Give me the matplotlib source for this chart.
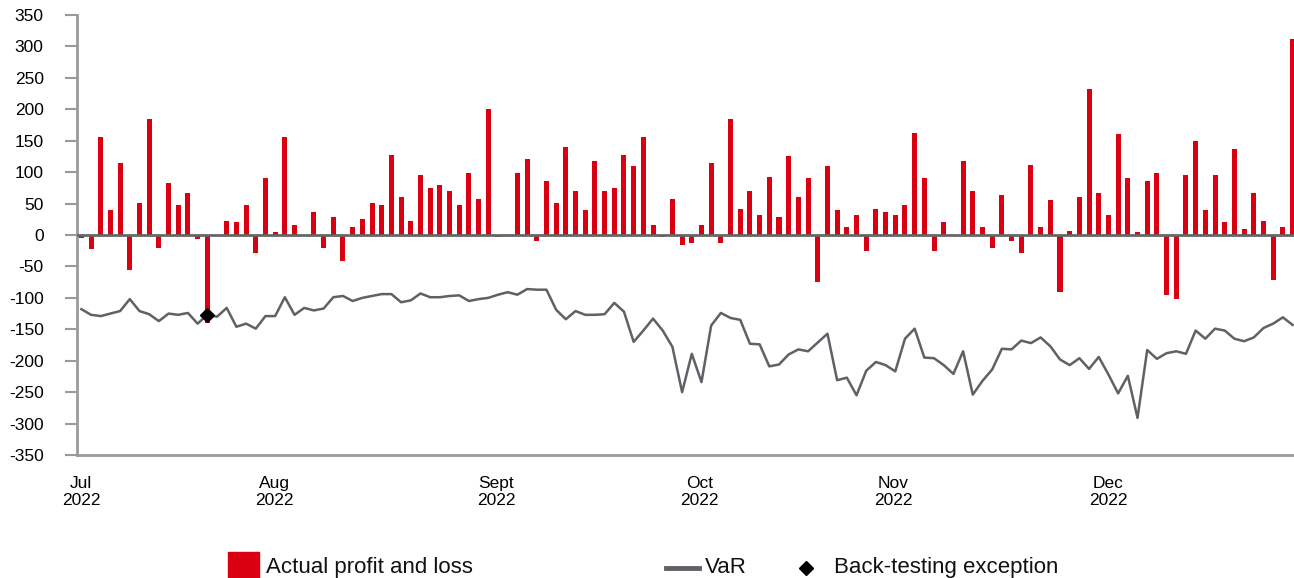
import matplotlib

matplotlib.use("Agg")

import matplotlib.pyplot as plt
import numpy as np
from matplotlib.lines import Line2D
from matplotlib.patches import Rectangle

plt.rcParams["font.family"] = ["Liberation Sans", "DejaVu Sans"]

# Colours
RED = "#db0011"
VAR_GREY = "#606066"
AXIS_GREY = "#9a9a9a"
ZERO_GREY = "#666666"

# Daily actual profit and loss (one entry per trading day, Jul-Dec 2022)
pnl = [
    -4, -23, 156, 39, 115, -55, 51, 185, -20, 83,
    48, 67, -7, -140, 0, 23, 20, 48, -29, 90,
    4, 156, 16, 0, 36, -20, 29, -42, 13, 26,
    51, 48, 128, 61, 23, 96, 74, 80, 70, 48,
    99, 58, 201, -3, 0, 99, 121, -10, 86, 51,
    140, 70, 39, 118, 70, 74, 128, 109, 156, 16,
    -3, 58, -16, -13, 16, 115, -13, 185, 42, 70,
    32, 93, 29, 125, 61, 90, -74, 109, 39, 13,
    32, -26, 42, 36, 32, 48, 163, 90, -26, 20,
    0, 118, 70, 13, -20, 64, -10, -29, 112, 13,
    55, -90, 7, 61, 233, 67, 32, 160, 90, 4,
    86, 99, -96, -102, 96, 150, 39, 96, 20, 137,
    10, 67, 23, -71, 13, 312,
]

# Daily VaR
var = [
    -118, -127, -129, -125, -121, -102, -121, -126, -137, -125,
    -127, -124, -141, -127, -130, -116, -146, -141, -149, -129,
    -129, -99, -127, -116, -120, -117, -99, -97, -105, -100,
    -97, -94, -94, -107, -104, -93, -99, -99, -97, -96,
    -105, -102, -100, -95, -91, -95, -86, -87, -87, -119,
    -134, -121, -127, -127, -126, -108, -122, -170, -152, -133,
    -152, -178, -250, -189, -234, -144, -124, -132, -135, -173,
    -174, -209, -206, -190, -182, -185, -171, -157, -231, -227,
    -255, -216, -202, -207, -217, -165, -149, -195, -196, -207,
    -221, -185, -254, -232, -214, -181, -182, -168, -172, -163,
    -177, -198, -207, -196, -213, -194, -222, -252, -224, -291,
    -183, -197, -188, -185, -189, -152, -165, -149, -152, -165,
    -169, -163, -148, -141, -131, -143,
]

# Back-testing exceptions (trading-day index)
exception_days = [13]

month_labels = ["Jul\n2022", "Aug\n2022", "Sept\n2022", "Oct\n2022", "Nov\n2022", "Dec\n2022"]
month_ticks = [0, 19.9, 42.8, 63.8, 83.8, 106.0]

y_ticks = list(range(-350, 351, 50))

days = np.arange(len(pnl))

fig = plt.figure(figsize=(12.94, 5.78), dpi=100)
ax = fig.add_axes([77 / 1294, 1 - 455 / 578, 1 - 77 / 1294, 440 / 578])

ax.bar(days, pnl, width=0.52, color=RED, zorder=2)
ax.axhline(0, color=ZERO_GREY, linewidth=2.0, zorder=3)
ax.plot(days, var, color=VAR_GREY, linewidth=1.8, zorder=4)
ax.plot(exception_days, [var[d] for d in exception_days], linestyle="none",
        marker="D", markersize=7, color="black", zorder=5)

ax.set_xlim(-0.45, 125.15)
ax.set_ylim(-350, 350)

ax.set_yticks(y_ticks)
ax.set_yticklabels([str(v) for v in y_ticks], fontsize=12.5)
ax.set_xticks(month_ticks)
ax.set_xticklabels(month_labels, fontsize=12.5, linespacing=1.2)

ax.tick_params(axis="y", length=9, width=1.5, color=AXIS_GREY, pad=15)
ax.tick_params(axis="x", length=0, pad=15)

for side in ["top", "right"]:
    ax.spines[side].set_visible(False)
for side in ["left", "bottom"]:
    ax.spines[side].set_color(AXIS_GREY)
    ax.spines[side].set_linewidth(2.0)

# Legend, laid out by hand along the bottom
W, H = 1294, 578
base = 1 - 573 / H
fig.add_artist(Rectangle((228 / W, 1 - 578 / H), 31 / W, 26 / H,
                         transform=fig.transFigure, color=RED, clip_on=False))
fig.text(266 / W, base, "Actual profit and loss", fontsize=16,
         ha="left", va="baseline", color="#111111")
fig.add_artist(Line2D([666 / W, 699 / W], [1 - 568 / H, 1 - 568 / H],
                      transform=fig.transFigure, color=VAR_GREY, linewidth=3.5))
fig.text(705 / W, base, "VaR", fontsize=16, ha="left", va="baseline",
         color="#111111")
fig.add_artist(Line2D([806 / W], [1 - 568 / H], transform=fig.transFigure,
                      marker="D", markersize=7, color="black", linestyle="none"))
fig.text(834 / W, base, "Back-testing exception", fontsize=16,
         ha="left", va="baseline", color="#111111")

fig.savefig("out.png", dpi=100)
